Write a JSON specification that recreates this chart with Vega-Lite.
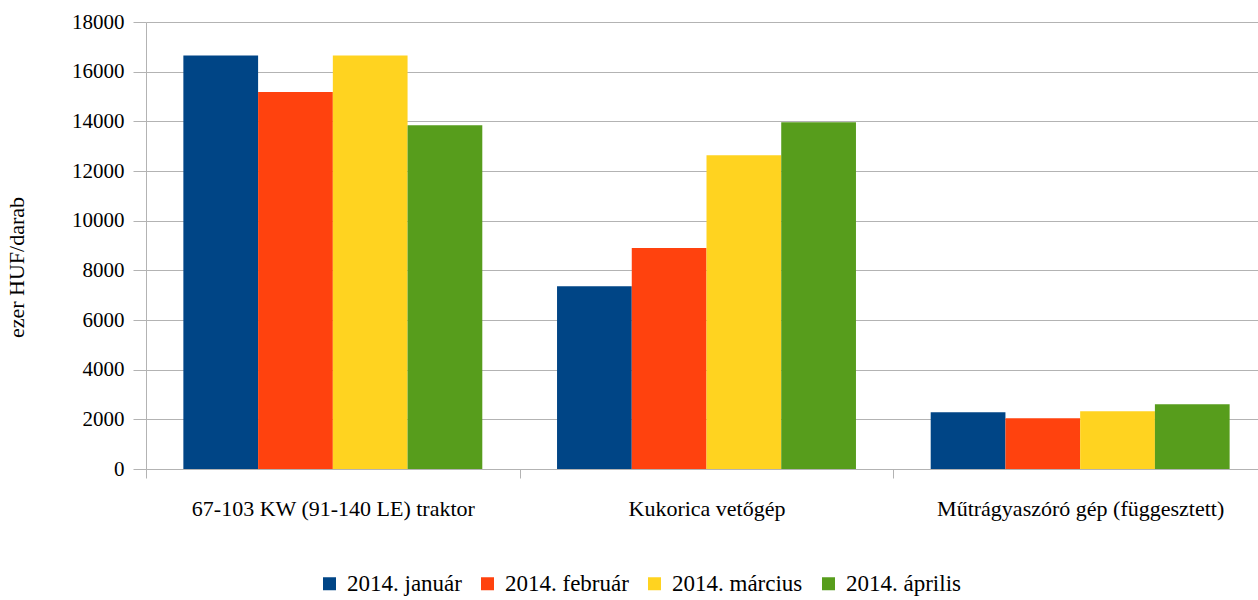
{
  "$schema": "https://vega.github.io/schema/vega-lite/v6.json",
  "width": 1112,
  "height": 447,
  "autosize": {"type": "none"},
  "padding": {"left": 146, "top": 22, "right": 0, "bottom": 131},
  "background": "white",
  "config": {
    "font": "Liberation Serif, Times New Roman, serif",
    "view": {"stroke": null}
  },
  "data": {
    "values": [
      {"kategoria": "67-103 KW (91-140 LE) traktor", "honap": "2014. január", "ertek": 16650},
      {"kategoria": "67-103 KW (91-140 LE) traktor", "honap": "2014. február", "ertek": 15180},
      {"kategoria": "67-103 KW (91-140 LE) traktor", "honap": "2014. március", "ertek": 16650},
      {"kategoria": "67-103 KW (91-140 LE) traktor", "honap": "2014. április", "ertek": 13840},
      {"kategoria": "Kukorica vetőgép", "honap": "2014. január", "ertek": 7364},
      {"kategoria": "Kukorica vetőgép", "honap": "2014. február", "ertek": 8903},
      {"kategoria": "Kukorica vetőgép", "honap": "2014. március", "ertek": 12636},
      {"kategoria": "Kukorica vetőgép", "honap": "2014. április", "ertek": 13960},
      {"kategoria": "Műtrágyaszóró gép (függesztett)", "honap": "2014. január", "ertek": 2284},
      {"kategoria": "Műtrágyaszóró gép (függesztett)", "honap": "2014. február", "ertek": 2040},
      {"kategoria": "Műtrágyaszóró gép (függesztett)", "honap": "2014. március", "ertek": 2324},
      {"kategoria": "Műtrágyaszóró gép (függesztett)", "honap": "2014. április", "ertek": 2608}
    ]
  },
  "mark": {"type": "bar"},
  "encoding": {
    "x": {
      "field": "kategoria",
      "type": "nominal",
      "sort": null,
      "scale": {"range": [0, 1121], "paddingInner": 0, "paddingOuter": 0},
      "axis": {
        "title": null,
        "labelAngle": 0,
        "labelLimit": 0,
        "labelFont": "Liberation Serif, Times New Roman, serif",
        "labelFontSize": 22,
        "labelColor": "#000000",
        "labelPadding": 20,
        "tickBand": "extent",
        "tickSize": 9,
        "tickColor": "#b3b3b3",
        "domainColor": "#b3b3b3",
        "grid": false
      }
    },
    "xOffset": {
      "field": "honap",
      "type": "nominal",
      "sort": ["2014. január", "2014. február", "2014. március", "2014. április"],
      "scale": {"paddingInner": 0, "paddingOuter": 0.5}
    },
    "y": {
      "field": "ertek",
      "type": "quantitative",
      "scale": {"domain": [0, 18000], "nice": false},
      "axis": {
        "title": "ezer HUF/darab",
        "titleFont": "Liberation Serif, Times New Roman, serif",
        "titleFontSize": 22,
        "titleFontWeight": "normal",
        "titleColor": "#000000",
        "titleX": -118,
        "titleY": 245,
        "titleAngle": -90,
        "titleAlign": "center",
        "titleBaseline": "bottom",
        "values": [0, 2000, 4000, 6000, 8000, 10000, 12000, 14000, 16000, 18000],
        "format": "d",
        "labelFont": "Liberation Serif, Times New Roman, serif",
        "labelFontSize": 21,
        "labelColor": "#000000",
        "labelPadding": 9,
        "tickSize": 13,
        "tickColor": "#b3b3b3",
        "domainColor": "#b3b3b3",
        "gridColor": "#b3b3b3",
        "gridOpacity": 1
      }
    },
    "color": {
      "field": "honap",
      "type": "nominal",
      "scale": {
        "domain": ["2014. január", "2014. február", "2014. március", "2014. április"],
        "range": ["#004586", "#ff420e", "#ffd320", "#579d1c"]
      },
      "legend": {
        "title": null,
        "orient": "none",
        "direction": "horizontal",
        "legendX": 172,
        "legendY": 550,
        "symbolType": "square",
        "symbolSize": 169,
        "symbolStrokeWidth": 0,
        "labelFont": "Liberation Serif, Times New Roman, serif",
        "labelFontSize": 23,
        "labelColor": "#000000",
        "labelOffset": 6,
        "columnPadding": 14
      }
    }
  }
}
